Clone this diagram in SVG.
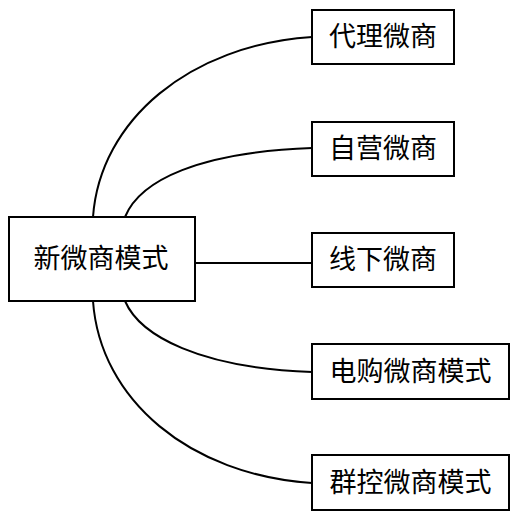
<svg xmlns="http://www.w3.org/2000/svg" width="516" height="518" viewBox="0 0 516 518">
<style>
.box{fill:#fff;stroke:#000;stroke-width:2}
.lbl{font-family:"Liberation Serif","Noto Sans CJK SC",serif;font-size:27px;fill:#000;text-anchor:middle;dominant-baseline:central}
.con{fill:none;stroke:#000;stroke-width:2}
</style>
<rect width="516" height="518" fill="#fff"/>
<g id="connectors">
<path class="con" d="M93,217 C100,120 190,45 312,37"/>
<path class="con" d="M125,217 C140,180 200,152 312,148"/>
<path class="con" d="M195,263 L312,263"/>
<path class="con" d="M125,301 C140,336 200,368 312,372"/>
<path class="con" d="M93,301 C100,400 190,475 312,483"/>
</g>
<g id="center">
<rect class="box" x="9" y="217" width="186" height="84"/>
<text class="lbl" x="101" y="259">新微商模式</text>
</g>
<g id="n1">
<rect class="box" x="312" y="10" width="142" height="54"/>
<text class="lbl" x="383" y="37">代理微商</text>
</g>
<g id="n2">
<rect class="box" x="312" y="122" width="142" height="54"/>
<text class="lbl" x="383" y="149">自营微商</text>
</g>
<g id="n3">
<rect class="box" x="312" y="233" width="142" height="54"/>
<text class="lbl" x="383" y="260">线下微商</text>
</g>
<g id="n4">
<rect class="box" x="312" y="344" width="197" height="55"/>
<text class="lbl" x="410.5" y="371.5">电购微商模式</text>
</g>
<g id="n5">
<rect class="box" x="312" y="455" width="197" height="55"/>
<text class="lbl" x="410.5" y="482.5">群控微商模式</text>
</g>
</svg>
